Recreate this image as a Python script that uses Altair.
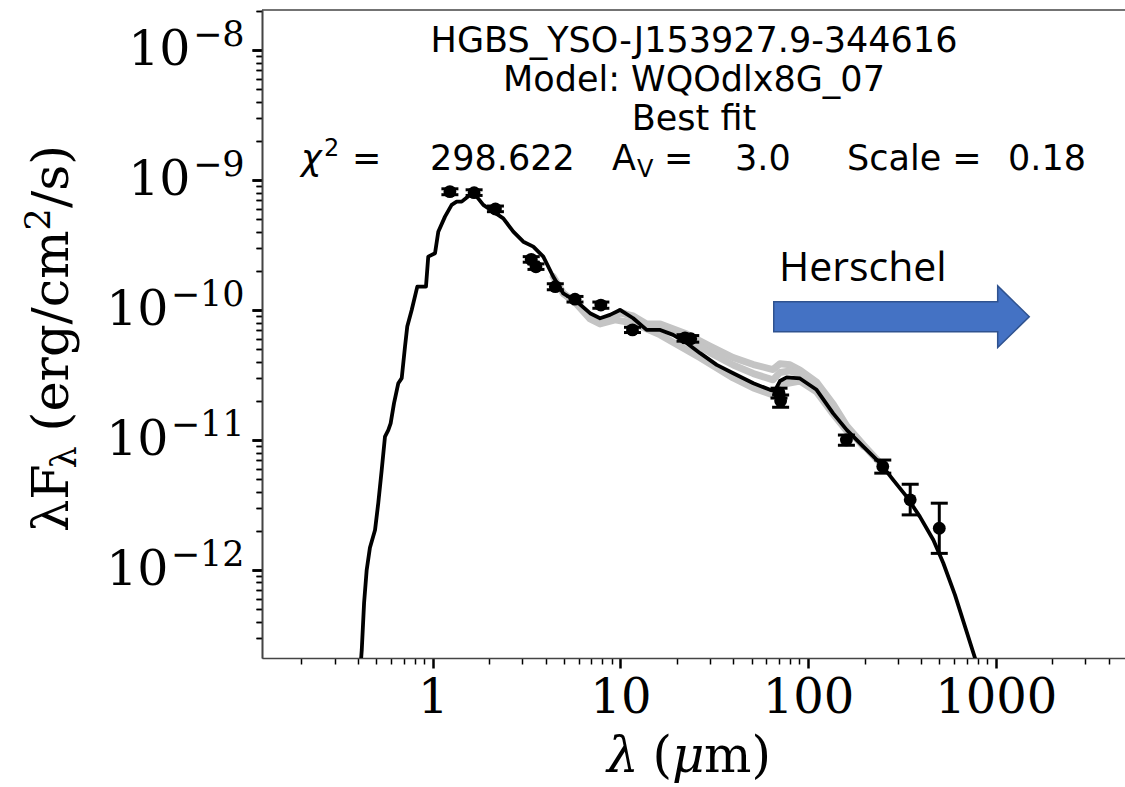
import altair as alt
import pandas as pd

# ---------------- data ----------------
# best-fit model SED: wavelength (um) and lambda*F_lambda (erg/cm^2/s)
model_lam = [0.400, 0.419, 0.431, 0.445, 0.463, 0.493, 0.513, 0.535, 0.557, 0.580,
             0.597, 0.622, 0.656, 0.684, 0.712, 0.732, 0.773, 0.828, 0.921, 0.947,
             1.029, 1.071, 1.163, 1.262, 1.342, 1.427, 1.580, 1.716, 1.860, 2.103,
             2.377, 2.688, 3.039, 3.436, 3.884, 4.391, 4.964, 5.85, 6.89, 7.79,
             8.80, 9.95, 11.7, 13.8, 16.3, 19.1, 22.6, 26.6, 32.6, 39.9,
             51.1, 62.7, 66.6, 70.8, 76.9, 90.5, 111, 136, 161, 197,
             242, 284, 335, 394, 465, 525, 606, 775, 876]
model_flux = [1.0e-13, 2.43e-13, 5.57e-13, 1.0e-12, 1.48e-12, 2.03e-12, 3.27e-12, 5.87e-12, 1.06e-11, 1.19e-11,
              1.34e-11, 1.91e-11, 2.73e-11, 2.99e-11, 5.22e-11, 7.45e-11, 1.0e-10, 1.51e-10, 1.51e-10, 2.57e-10,
              2.73e-10, 4.00e-10, 5.22e-10, 6.43e-10, 6.81e-10, 6.81e-10, 7.67e-10, 7.45e-10, 6.43e-10, 5.70e-10,
              5.07e-10, 4.00e-10, 3.35e-10, 3.07e-10, 2.57e-10, 1.80e-10, 1.34e-10, 1.16e-10, 9.44e-11, 8.63e-11,
              9.16e-11, 1.0e-10, 8.63e-11, 7.02e-11, 7.02e-11, 6.43e-11, 5.55e-11, 4.65e-11, 3.78e-11, 3.26e-11,
              2.73e-11, 2.43e-11, 2.38e-11, 2.84e-11, 3.03e-11, 2.97e-11, 2.43e-11, 1.60e-11, 1.19e-11, 8.87e-12,
              6.62e-12, 4.92e-12, 3.66e-12, 2.57e-12, 1.70e-12, 1.13e-12, 6.43e-13, 2.10e-13, 1.19e-13]

# other good fits (grey)
grey1_lam = [4.391, 4.964, 5.85, 6.89, 7.79, 8.80, 9.95, 11.7, 13.8, 16.3, 22.6, 30.0,
             39.9, 51.1, 65.0, 70.8, 80.1, 90.5, 111, 136, 161, 197, 242]
grey1_flux = [1.80e-10, 1.34e-10, 1.13e-10, 8.67e-11, 7.94e-11, 8.38e-11, 9.48e-11, 8.99e-11,
              7.80e-11, 7.80e-11, 6.53e-11, 5.28e-11, 4.30e-11, 3.80e-11, 3.48e-11, 3.85e-11,
              3.78e-11, 3.45e-11, 2.79e-11, 1.89e-11, 1.28e-11, 9.16e-12, 6.62e-12]
grey2_lam = [4.964, 5.85, 6.89, 7.79, 9.36, 11.7, 16.3, 26.6, 39.9, 51.1, 65.0, 70.8,
             90.5, 111, 136, 161]
grey2_flux = [1.34e-10, 1.11e-10, 8.53e-11, 7.80e-11, 8.38e-11, 7.94e-11, 6.43e-11, 4.28e-11,
              3.00e-11, 2.51e-11, 2.22e-11, 2.65e-11, 2.84e-11, 2.34e-11, 1.58e-11, 1.17e-11]
grey3_lam = [9.95, 11.7, 13.8, 16.3, 22.6, 30.0, 39.9, 51.1, 65.0, 70.8, 80.1, 90.5,
             111, 136, 161, 197]
grey3_flux = [9.7e-11, 8.8e-11, 7.4e-11, 7.4e-11, 6.0e-11, 4.7e-11, 3.77e-11, 3.24e-11,
              2.9e-11, 3.3e-11, 3.4e-11, 3.2e-11, 2.6e-11, 1.74e-11, 1.23e-11, 8.9e-12]

# photometry with error bars
obs_lam = [1.235, 1.662, 2.159, 3.35, 3.55, 4.5, 5.73, 7.87, 11.6, 22.1, 23.7,
           70.0, 71.4, 160.0, 250.0, 350.0, 500.0]
obs_flux = [8.13e-10, 7.98e-10, 5.98e-10, 2.45e-10, 2.15e-10, 1.51e-10, 1.21e-10, 1.09e-10,
            7.02e-11, 6.1e-11, 6.0e-11, 2.3e-11, 2.0e-11, 1.0e-11, 6.24e-12, 3.46e-12, 2.09e-12]
obs_lo = [7.7e-10, 7.6e-10, 5.7e-10, 2.33e-10, 2.05e-10, 1.43e-10, 1.15e-10, 1.03e-10,
          6.7e-11, 5.75e-11, 5.65e-11, 2.1e-11, 1.78e-11, 0.91e-11, 5.55e-12, 2.65e-12, 1.34e-12]
obs_hi = [8.55e-10, 8.4e-10, 6.3e-10, 2.57e-10, 2.26e-10, 1.59e-10, 1.27e-10, 1.15e-10,
          7.35e-11, 6.45e-11, 6.35e-11, 2.5e-11, 2.22e-11, 1.09e-11, 7.0e-12, 4.56e-12, 3.26e-12]

# axis ticks
x_major = [1, 10, 100, 1000]
x_minor = [0.2, 0.3, 0.4, 0.5, 0.6, 0.7, 0.8, 0.9,
           2, 3, 4, 5, 6, 7, 8, 9,
           20, 30, 40, 50, 60, 70, 80, 90,
           200, 300, 400, 500, 600, 700, 800, 900,
           2000, 3000, 4000]
y_exponents = [-12, -11, -10, -9, -8]
y_minor_mult = [2, 3, 4, 5, 6, 7, 8, 9]

X_DOMAIN = [0.1232, 4880]
Y_DOMAIN = [2.10e-13, 2.03e-8]
W, H = 863, 648

# ---------------- tables ----------------
lines_df = pd.concat([
    pd.DataFrame({"lam": grey1_lam, "flux": grey1_flux, "s": "g1", "o": range(len(grey1_lam))}),
    pd.DataFrame({"lam": grey2_lam, "flux": grey2_flux, "s": "g2", "o": range(len(grey2_lam))}),
    pd.DataFrame({"lam": grey3_lam, "flux": grey3_flux, "s": "g3", "o": range(len(grey3_lam))}),
])
model_df = pd.DataFrame({"lam": model_lam, "flux": model_flux, "o": range(len(model_lam))})
obs_df = pd.DataFrame({"lam": obs_lam, "flux": obs_flux, "lo": obs_lo, "hi": obs_hi})

y_values = []
for e in [-13] + y_exponents:
    y_values.append(10.0 ** e)
    for m in y_minor_mult:
        y_values.append(m * 10.0 ** e)
y_values = [v for v in y_values if Y_DOMAIN[0] <= v <= Y_DOMAIN[1]]

major_test = "abs(log(datum.value)/LN10 - round(log(datum.value)/LN10)) < 0.001"
two_digit_test = "abs(round(log(datum.value)/LN10)) >= 10"

x_label_expr = "".join(f"datum.value == {v} ? '{v}' : " for v in x_major) + "''"
y_base_expr = "(" + major_test + ") ? '10' : ''"
y_exp_expr = ("!(" + major_test + ") ? '' : " +
              "".join(f"round(log(datum.value)/LN10) == {e} ? '\u2212{abs(e)}' : "
                      for e in y_exponents) + "''")

tick_style = dict(
    grid=False, tickColor="black",
    tickSize={"condition": {"test": major_test, "value": 10}, "value": 6},
    tickWidth={"condition": {"test": major_test, "value": 2.5}, "value": 1.5},
    domainColor="#444444", domainWidth=1.6,
    labelFont="DejaVu Serif", labelColor="black", labelOverlap=False, labelFlush=False,
    title=None,
)
x_axis = alt.Axis(values=x_major + x_minor, labelExpr=x_label_expr, labelFontSize=48,
                  labelPadding=6, labelAngle=0, **tick_style)
# "10" part of the y tick labels
y_axis = alt.Axis(values=y_values, labelExpr=y_base_expr, labelFontSize=49, orient="left",
                  labelPadding={"condition": {"test": two_digit_test, "value": 84}, "value": 62},
                  **tick_style)
# exponent part of the y tick labels
y_exp_axis = alt.Axis(values=y_values, labelExpr=y_exp_expr, labelFontSize=35, orient="left",
                      labelPadding=8, labelOffset=-15, **tick_style)

x_scale = alt.Scale(type="log", domain=X_DOMAIN, nice=False)
y_scale = alt.Scale(type="log", domain=Y_DOMAIN, nice=False)


def X(f="lam"):
    return alt.X(f, type="quantitative", scale=x_scale, axis=x_axis)


def Y(f="flux"):
    return alt.Y(f, type="quantitative", scale=y_scale, axis=y_axis)


grey = alt.Chart(lines_df).mark_line(
    color="#c4c4c4", strokeWidth=7, clip=True, strokeCap="round", strokeJoin="round"
).encode(x=X(), y=Y(), detail="s:N", order="o:Q")

model = alt.Chart(model_df).mark_line(
    color="black", strokeWidth=3.8, clip=True, strokeJoin="round"
).encode(x=X(), y=Y(), order="o:Q")

bars = alt.Chart(obs_df).mark_rule(color="black", strokeWidth=3).encode(
    x=X(), y=Y("lo"), y2=alt.Y2("hi"))
cap_lo = alt.Chart(obs_df).mark_tick(color="black", orient="horizontal", size=17,
                                     thickness=3, opacity=1).encode(x=X(), y=Y("lo"))
cap_hi = alt.Chart(obs_df).mark_tick(color="black", orient="horizontal", size=17,
                                     thickness=3, opacity=1).encode(x=X(), y=Y("hi"))
dots = alt.Chart(obs_df).mark_circle(color="black", size=165, opacity=1).encode(x=X(), y=Y())

exp_layer = alt.Chart(obs_df).mark_point(opacity=0).encode(
    y=alt.Y("flux", type="quantitative", scale=y_scale, axis=y_exp_axis))

data_layers = alt.layer(
    alt.layer(grey, model, bars, cap_lo, cap_hi, dots), exp_layer
).resolve_axis(y="independent")

one = pd.DataFrame({"k": [0]})


def txt(s, x, y, size, font="DejaVu Sans", style="normal", align="left",
        baseline="alphabetic", angle=0):
    return alt.Chart(one).mark_text(
        text=s, font=font, fontSize=size, fontStyle=style, align=align,
        baseline=baseline, angle=angle, color="black"
    ).encode(x=alt.value(x), y=alt.value(y))


arrow_path = ("M -1 -0.117 L 0.753 -0.117 L 0.753 -0.2415 L 1 0 "
              "L 0.753 0.2415 L 0.753 0.117 L -1 0.117 Z")
arrow = alt.Chart(one).mark_point(
    shape=arrow_path, filled=True, fill="#4472C4", stroke="#2F528F",
    strokeWidth=1.5, size=65280, opacity=1
).encode(x=alt.value(639.5), y=alt.value(306.7))

cx = W / 2 + 0.5
texts = [
    txt("HGBS_YSO-J153927.9-344616", cx, 42, 35, align="center"),
    txt("Model: WQOdlx8G_07", cx, 81, 35, align="center"),
    txt("Best fit", cx, 120, 35, align="center"),
    txt("\u03c7", 39, 160, 35, style="italic"),
    txt("2", 62, 146, 24),
    txt("=", 90, 160, 35),
    txt("298.622", 168, 160, 35),
    txt("A", 350, 160, 35),
    txt("V", 375, 167, 24),
    txt("=", 402, 160, 35),
    txt("3.0", 473, 160, 35),
    txt("Scale =", 585, 160, 35),
    txt("0.18", 746, 160, 35),
    txt("Herschel", 517, 271, 41, font="Open Sans"),
    # x-axis title
    txt("\u03bb", 345, 762, 50, font="DejaVu Serif", style="italic"),
    txt("(", 390.5, 762, 50, font="DejaVu Serif"),
    txt("\u03bc", 410, 762, 50, font="DejaVu Serif", style="italic"),
    txt("m)", 442, 762, 50, font="DejaVu Serif"),
    # y-axis title (rotated)
    txt("\u03bbF", -194, 522, 51, font="DejaVu Serif", angle=270),
    txt("\u03bb", -186, 458.5, 35, font="DejaVu Serif", angle=270),
    txt("(erg/cm", -194, 421.5, 51, font="DejaVu Serif", angle=270),
    txt("2", -212, 220.5, 35, font="DejaVu Serif", angle=270),
    txt("/s)", -194, 198, 51, font="DejaVu Serif", angle=270),
]

top_spine = alt.Chart(one).mark_rule(color="#444444", strokeWidth=1.6).encode(
    x=alt.value(0), x2=alt.value(W), y=alt.value(0))

chart = alt.layer(data_layers, arrow, top_spine, *texts).properties(
    width=W, height=H,
    padding={"left": 262, "top": 10, "right": 0, "bottom": 129},
    autosize=alt.AutoSizeParams(type="none"),
    background="white",
).configure_view(stroke=None)

chart.save("out.html", embed_options={"renderer": "svg", "actions": False})
